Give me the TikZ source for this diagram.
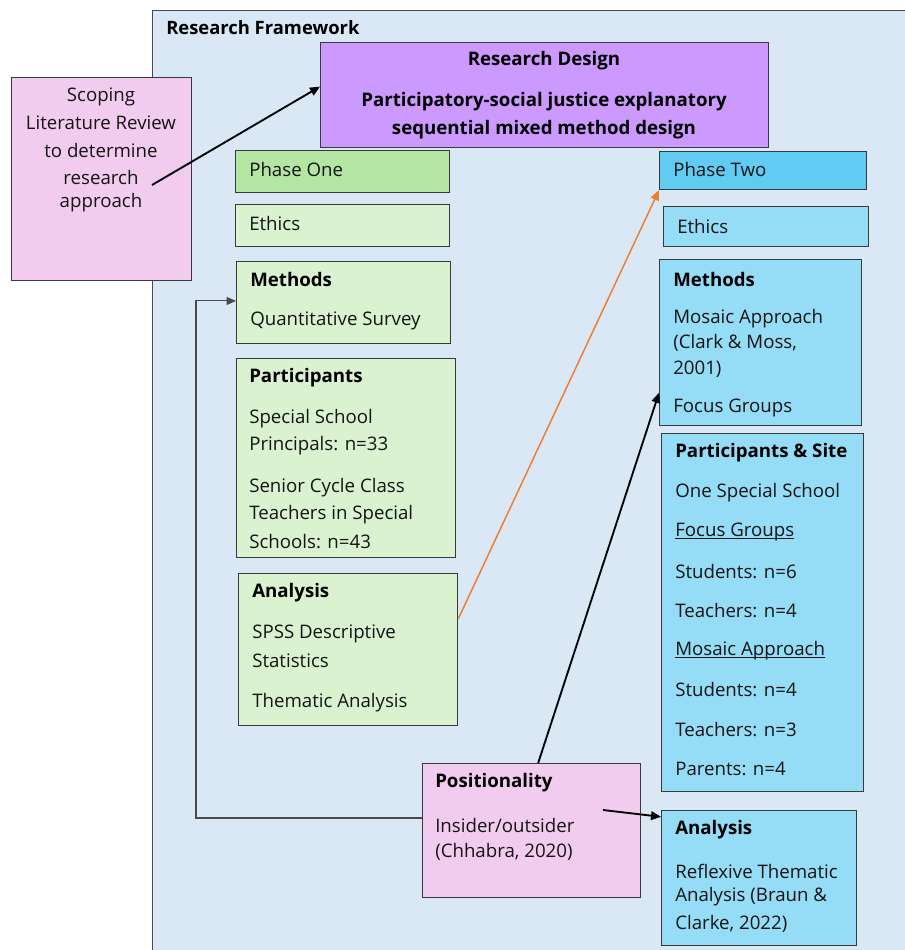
\documentclass[tikz,border=0pt]{standalone}
\usepackage{fontspec}
\setmainfont{Open Sans}
\usetikzlibrary{arrows.meta,calc}

\definecolor{framefill}{HTML}{DAE8F5}
\definecolor{pinkfill}{HTML}{F2CCEE}
\definecolor{purplefill}{HTML}{CC99FF}
\definecolor{greendark}{HTML}{B4E5A2}
\definecolor{greenlight}{HTML}{DAF2D0}
\definecolor{bluedark}{HTML}{61CBF3}
\definecolor{bluelight}{HTML}{95DCF7}
\definecolor{edge}{HTML}{3A3A3A}
\definecolor{orangeline}{HTML}{ED7D31}
\definecolor{elbowline}{HTML}{4A4A4A}

\tikzset{
  box/.style={draw=edge, line width=0.9pt, anchor=north west, inner sep=0pt},
  txt/.style={anchor=west, inner sep=0pt, font=\fontsize{14}{16}\selectfont, text=black!92},
  ctxt/.style={anchor=center, inner sep=0pt, font=\fontsize{14}{16}\selectfont, text=black!92},
  hd/.style={txt, font=\fontsize{14}{16}\selectfont\bfseries, text=black},
  chd/.style={ctxt, font=\fontsize{14}{16}\selectfont\bfseries, text=black},
  arrowtip/.style={-{Triangle[length=7.5pt,width=6.5pt]}},
  blackarrow/.style={arrowtip, draw=black, line width=1.4pt},
  orangearrow/.style={arrowtip, draw=orangeline, line width=1.1pt},
  elbow/.style={-{Triangle[length=7pt,width=6pt]}, draw=elbowline, line width=0.8pt},
}
% place a box by its pixel corners (x1,y1) -- (x2,y2); one pixel is 0.75pt
\newcommand{\pxbox}[6]{%
  \node[box, fill=#2, minimum width={0.75pt*(#5-#3)}, minimum height={0.75pt*(#6-#4)}] (#1) at (#3,#4) {};}
% underline sitting close to the baseline, keeping the text's own height and depth
\newcommand{\ulbase}[1]{\underline{\smash{#1}}\vphantom{#1}}

\begin{document}
\begin{tikzpicture}[x=0.75pt, y=-0.75pt]
\useasboundingbox (0,0) rectangle (905,950);

% outer framework panel
\node[box, fill=framefill, draw=elbowline, line width=1pt, minimum width=585pt, minimum height=720pt] (frame) at (152,10) {};
\node[hd, font=\fontsize{13.8}{16}\selectfont\bfseries] (frametitle) at (166,28) {Research Framework};

% scoping review
\pxbox{scope}{pinkfill}{11}{77}{191}{280}
\node[ctxt] (s1) at (101,97) {Scoping};
\node[ctxt] (s2) at (101,123) {Literature Review};
\node[ctxt] (s3) at (101,150) {to determine};
\node[ctxt] (s4) at (101,177) {research};
\node[ctxt] (s5) at (101,203) {approach};

% research design
\pxbox{rd}{purplefill}{320}{42}{768}{147}
\node[chd] (rd1) at (544,61) {Research Design};
\node[chd] (rd2) at (544,102) {Participatory-social justice explanatory};
\node[chd] (rd3) at (544,130) {sequential mixed method design};

% phase one column
\pxbox{p1}{greendark}{235}{150}{449}{192}
\node[txt] (p1t) at (249,169) {Phase One};
\pxbox{e1}{greenlight}{235}{204}{449}{246}
\node[txt] (e1t) at (249,223) {Ethics};
\pxbox{m1}{greenlight}{236}{261}{450}{343}
\node[hd] (m1h) at (250,279) {Methods};
\node[txt] (m1a) at (250,321) {Quantitative Survey};
\pxbox{pa1}{greenlight}{236}{358}{455}{557}
\node[hd] (pa1h) at (249,378) {Participants};
\node[txt] (pa1a) at (249,419) {Special School};
\node[txt] (pa1b) at (249,446) {Principals: n=33};
\node[txt] (pa1c) at (249,488) {Senior Cycle Class};
\node[txt] (pa1d) at (249,515) {Teachers in Special};
\node[txt] (pa1e) at (249,542) {Schools: n=43};
\pxbox{a1}{greenlight}{238}{573}{457}{725}
\node[hd] (a1h) at (252,593) {Analysis};
\node[txt] (a1a) at (252,634) {SPSS Descriptive};
\node[txt] (a1b) at (252,661) {Statistics};
\node[txt] (a1c) at (252,703) {Thematic Analysis};

% phase two column
\pxbox{p2}{bluedark}{659}{151}{866}{189}
\node[txt] (p2t) at (673,169) {Phase Two};
\pxbox{e2}{bluelight}{663}{206}{868}{246}
\node[txt] (e2t) at (677,226) {Ethics};
\pxbox{m2}{bluelight}{659}{259}{861}{425}
\node[hd] (m2h) at (673,279) {Methods};
\node[txt] (m2a) at (673,319) {Mosaic Approach};
\node[txt] (m2b) at (673,343) {(Clark \& Moss,};
\node[txt] (m2c) at (673,369) {2001)};
\node[txt] (m2d) at (673,408) {Focus Groups};
\pxbox{ps2}{bluelight}{661}{433}{863}{791}
\node[hd] (ps2h) at (675,453) {Participants \& Site};
\node[txt] (ps2a) at (675,493) {One Special School};
\node[txt] (ps2b) at (675,532) {\ulbase{Focus Groups}};
\node[txt] (ps2c) at (675,572) {Students: n=6};
\node[txt] (ps2d) at (675,611) {Teachers: n=4};
\node[txt] (ps2e) at (675,651) {\ulbase{Mosaic Approach}};
\node[txt] (ps2f) at (675,690) {Students: n=4};
\node[txt] (ps2g) at (675,730) {Teachers: n=3};
\node[txt] (ps2h2) at (675,769) {Parents: n=4};
\pxbox{a2}{bluelight}{661}{810}{856}{945}
\node[hd] (a2h) at (675,830) {Analysis};
\node[txt] (a2a) at (675,871) {Reflexive Thematic};
\node[txt] (a2b) at (675,897) {Analysis (Braun \&};
\node[txt] (a2c) at (675,924) {Clarke, 2022)};

% positionality
\pxbox{pos}{pinkfill}{422}{763}{640}{897}
\node[hd] (posh) at (435,783) {Positionality};
\node[txt] (posa) at (435,825) {Insider/outsider};
\node[txt] (posb) at (435,852) {(Chhabra, 2020)};

% connectors
\coordinate (scopestart) at (152,185);
\draw[blackarrow] (scopestart) -- ($(rd.north west)!0.42!(rd.south west)$);

\draw[orangearrow] ($(a1.north east)!0.3!(a1.south east)$) -- (p2.south west);

\draw[blackarrow] ($(pos.north west)!0.53!(pos.north east)$) -- ($(m2.south west)!0.2!(m2.north west)$);

\coordinate (posinner) at (603,810);
\draw[blackarrow] (posinner) -- ($(a2.north west)!0.05!(a2.south west)$);

\coordinate (elbowstart) at (422,818);
\coordinate (elbowbend) at (196,818);
\draw[elbow] (elbowstart) -- (elbowbend) |- ($(m1.north west)!0.48!(m1.south west)$);

\end{tikzpicture}
\end{document}
